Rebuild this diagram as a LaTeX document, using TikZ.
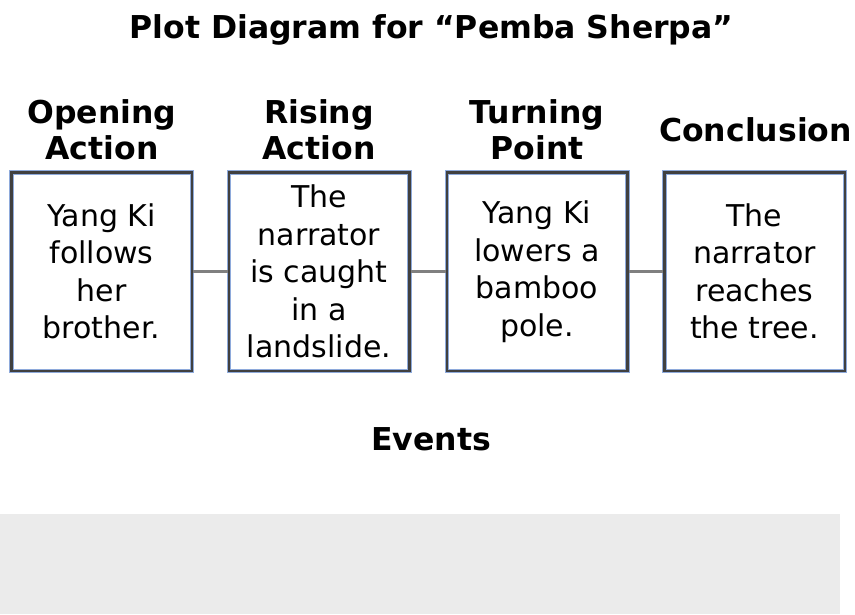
\documentclass[tikz,border=0pt]{standalone}
\usepackage{fontspec}
\setmainfont{DejaVu Sans}
\usepackage{xcolor}
\usetikzlibrary{positioning}

\definecolor{boxgray}{HTML}{404040}
\definecolor{boxblue}{HTML}{8EAADB}
\definecolor{linkgray}{HTML}{808080}
\definecolor{eventsbg}{HTML}{EBEBEB}

\begin{document}
\begin{tikzpicture}[x=1pt,y=-1pt,
    eventbox/.style={draw=boxgray,line width=2.5pt,
      preaction={draw=boxblue,line width=4.5pt},
      minimum width=180.5pt,minimum height=198.5pt,inner sep=0pt,
      align=center,font=\fontsize{30}{37.5}\selectfont},
    heading/.style={align=center,inner sep=0pt,
      font=\fontsize{31.5}{36}\selectfont\bfseries},
    link/.style={draw=linkgray,line width=3pt}]
    \useasboundingbox (0,0) rectangle (855,614);
    \fill[eventsbg] (0,514) rectangle (840,614);
    %
    \node[heading,anchor=base] (title) at (431.5,38) {Plot Diagram for “Pemba Sherpa”};
    %
    \node[heading] (h1) at (102,129.5) {Opening\\Action};
    \node[heading] (h2) at (319,129.5) {Rising\\Action};
    \node[heading] (h3) at (537,129.5) {Turning\\Point};
    \node[heading] (h4) at (755.5,129.5) {Conclusion};
    %
    \node[eventbox] (b1) at (101.5,271.5) {Yang Ki\\follows\\her\\brother.};
    \node[eventbox] (b2) at (319,271.5) {The\\narrator\\is caught\\in a\\landslide.};
    \node[eventbox] (b3) at (537,271.5) {Yang Ki\\lowers a\\bamboo\\pole.};
    \node[eventbox] (b4) at (754.5,271.5) {The\\narrator\\reaches\\the tree.};
    %
    \draw[link] (b1) -- (b2);
    \draw[link] (b2) -- (b3);
    \draw[link] (b3) -- (b4);
    %
    \node[heading,anchor=base] (events) at (431,450) {Events};
\end{tikzpicture}
\end{document}
